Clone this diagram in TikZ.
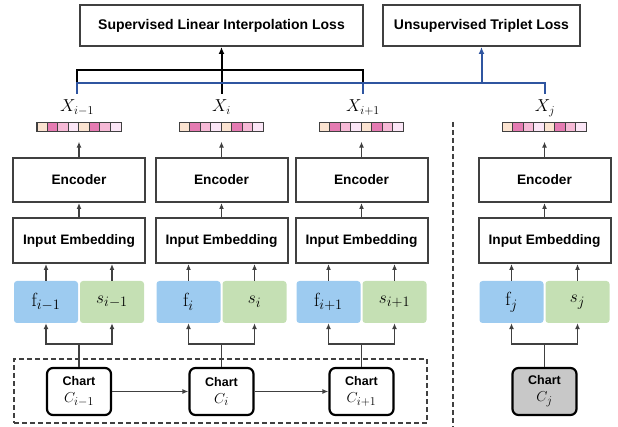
\documentclass[tikz,border=0pt]{standalone}
\usepackage{fontspec}
\setsansfont{Liberation Sans}
\usetikzlibrary{arrows.meta}
\DeclareMathSizes{17}{17}{13}{10}
\DeclareMathSizes{19}{19}{14.5}{11}
\DeclareMathSizes{15}{15}{11.5}{9}
\definecolor{boxgray}{HTML}{404040}
\definecolor{lossblue}{HTML}{2F55A0}
\definecolor{fblue}{HTML}{9DCBF0}
\definecolor{sgreen}{HTML}{C5E0B4}
\definecolor{cpeach}{HTML}{FBE3D0}
\definecolor{cdark}{HTML}{E57BB2}
\definecolor{clight}{HTML}{F6B9D6}
\definecolor{cpale}{HTML}{FBE6F6}
\definecolor{chartgray}{HTML}{C8C8C8}
\newcommand\cellbar[1]{%
  \foreach \cellcol [count=\k from 0] in {cpeach,cdark,clight,cpale,cpeach,cdark,clight,cpale}
    \path[fill=\cellcol] ([xshift=\k*10.5pt]#1.south west) rectangle ++(10.5,-9);
  \foreach \k in {1,...,7}
    \draw[boxgray, line width=0.8pt] ([xshift=\k*10.5pt]#1.south west) -- ++(0,-9);
  \draw[boxgray, line width=1.4pt] (#1.south west) rectangle (#1.north east);
}
\tikzset{
  blockbox/.style={draw=boxgray, line width=2pt, minimum width=132, minimum height=44,
    inner sep=0, font=\sffamily\bfseries\fontsize{13.7}{16}\selectfont},
  lossbox/.style={blockbox, minimum height=41, font=\sffamily\bfseries\fontsize{14}{16}\selectfont},
  featbox/.style={rounded corners=3pt, minimum width=64, minimum height=42, inner sep=0,
    font=\fontsize{19}{22}\selectfont},
  chartbox/.style={draw=black, line width=2.2pt, rounded corners=6pt, minimum width=64,
    minimum height=47, fill=white, align=center, inner sep=0,
    font=\sffamily\bfseries\fontsize{12.5}{14}\selectfont},
  vecbox/.style={minimum width=84, minimum height=9, inner sep=0},
  xlab/.style={inner sep=0, outer ysep=6pt, anchor=north, font=\fontsize{17}{19}\selectfont},
  arr/.style={-{Latex[length=6pt,width=5pt]}, line width=1.4pt, draw=boxgray},
  ln/.style={line width=1.4pt, draw=boxgray},
  bracketln/.style={line width=2pt, draw=black},
  blueln/.style={line width=2pt, draw=lossblue},
  groupbox/.style={draw=boxgray, line width=1.8pt, dash pattern=on 5pt off 3pt,
    minimum width=413, minimum height=64, inner sep=0},
  sepline/.style={draw=boxgray, line width=1.8pt, dash pattern=on 5pt off 3pt},
}
\begin{document}
\begin{tikzpicture}[x=1pt, y=-1pt]
\useasboundingbox (0,0) rectangle (618,427);

% loss boxes
\node[lossbox, minimum width=283] (sup) at (221.5,25.5) {Supervised Linear Interpolation Loss};
\node[lossbox, minimum width=197] (uns) at (481.5,25.5) {Unsupervised Triplet Loss};

% group frame
\node[groupbox] (grp) at (220.5,391) {};
\coordinate (septop) at (453,122);
\coordinate (sepbot) at (453,427);
\draw[sepline] (septop) -- (sepbot);

% columns
\foreach \n/\cx/\xx/\lab/\sub/\chfill in {1/79/77/{X_{i-1}}/{i-1}/white, 2/221.5/221.5/{X_i}/{i}/white, 3/361.5/363/{X_{i+1}}/{i+1}/white, j/544.5/545/{X_j}/{j}/chartgray}{
  \node[xlab] (x\n) at (\xx,94) {$\lab$};
  \node[vecbox] (v\n) at (\cx,127) {};
  \cellbar{v\n}
  \node[blockbox] (enc\n) at (\cx,180) {Encoder};
  \node[blockbox, minimum height=45] (ie\n) at (\cx,240.5) {Input Embedding};
  \node[featbox, fill=fblue] (f\n) at (\cx-33,302) {$\mathrm{f}_{\sub}$};
  \node[featbox, fill=sgreen] (s\n) at (\cx+33,302) {$s_{\sub}$};
  \node[chartbox, fill=\chfill] (ch\n) at (\cx,391.5) {Chart\\[3pt]{\fontsize{15}{17}\selectfont$C_{\sub}$}};
  \draw[arr, shorten >=10pt] (enc\n.north) -- (v\n.south);
  \draw[arr] (ie\n.north) -- (enc\n.south);
  \draw[arr] (f\n.north) -- (f\n.north |- ie\n.south);
  \draw[arr] (s\n.north) -- (s\n.north |- ie\n.south);
  \coordinate (b\n) at ([yshift=23pt]ch\n.north);
  \draw[ln] (ch\n.north) -- (b\n);
  \draw[arr] (b\n) -| (f\n.south);
  \draw[arr] (b\n) -| (s\n.south);
}

% chart sequence
\draw[arr] (ch1.east) -- (ch2.west);
\draw[arr] (ch2.east) -- (ch3.west);

% supervised bracket
\draw[bracketln] ([yshift=11pt]x1.north) |- ([yshift=24pt]x3.north) -- ([yshift=11pt]x3.north);
\draw[bracketln, -{Latex[length=7pt,width=6pt]}] (x2.north) -- (x2.north |- sup.south);

% unsupervised line
\draw[blueln] (x1.north) -- ([yshift=11pt]x1.north) -- ([yshift=11pt]xj.north) -- (xj.north);
\draw[blueln] (x3.north) -- ([yshift=11pt]x3.north);
\draw[blueln, -{Latex[length=7pt,width=6pt]}] ([yshift=11pt]xj.north -| uns.south) -- (uns.south);
\end{tikzpicture}
\end{document}
